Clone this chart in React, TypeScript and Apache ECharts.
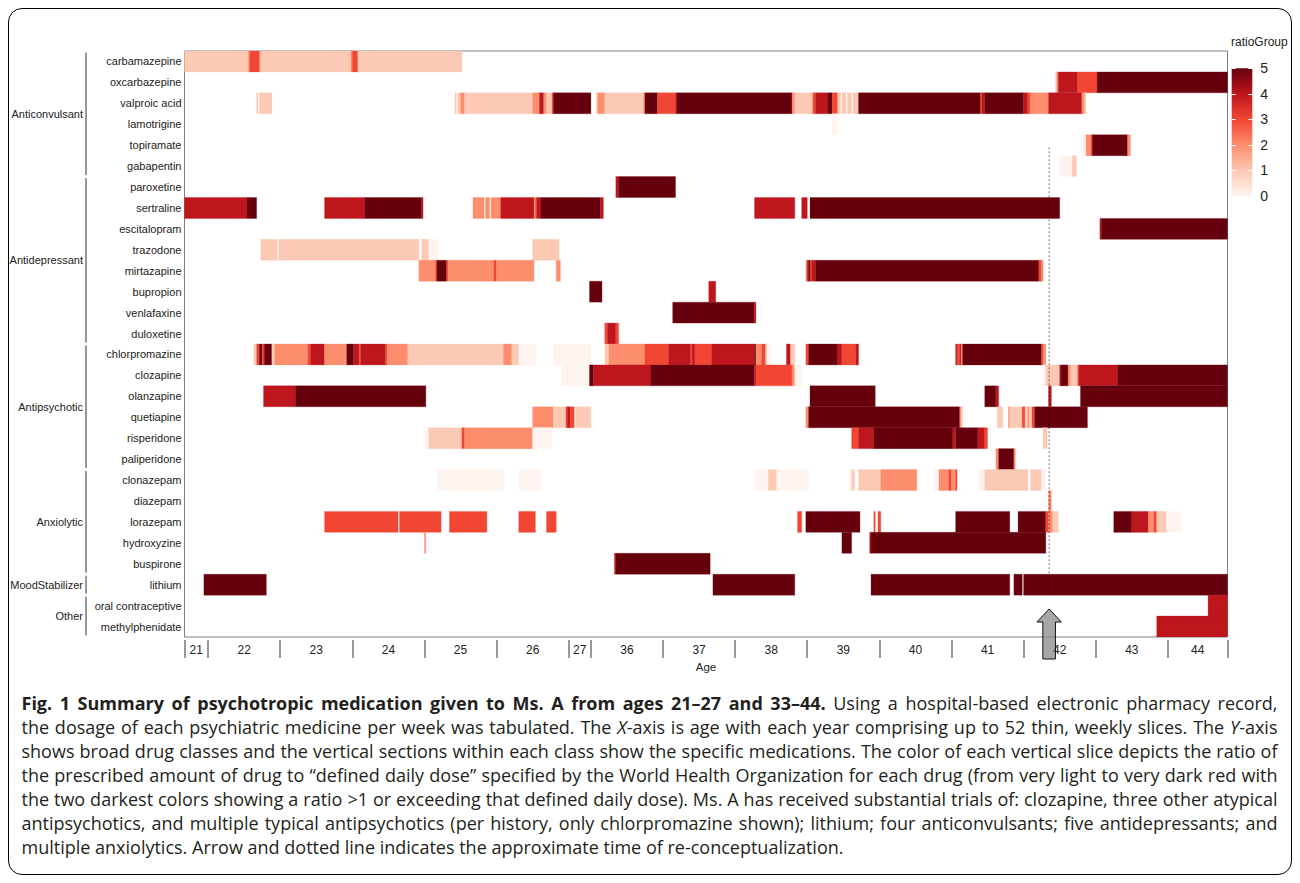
import React, { useEffect, useRef } from "react";
import * as echarts from "echarts";

// ---------- categories ----------
const medications = [
  "carbamazepine", "oxcarbazepine", "valproic acid", "lamotrigine", "topiramate", "gabapentin",
  "paroxetine", "sertraline", "escitalopram", "trazodone", "mirtazapine", "bupropion", "venlafaxine", "duloxetine",
  "chlorpromazine", "clozapine", "olanzapine", "quetiapine", "risperidone", "paliperidone",
  "clonazepam", "diazepam", "lorazepam", "hydroxyzine", "buspirone",
  "lithium",
  "oral contraceptive", "methylphenidate",
];
const drugClasses = ["Anticonvulsant", "Antidepressant", "Antipsychotic", "Anxiolytic", "MoodStabilizer", "Other"];
const classRows = [[0, 5], [6, 13], [14, 19], [20, 24], [25, 25], [26, 27]];

// x axis: weeks, year boundaries and age labels
const ageLabels = ["21", "22", "23", "24", "25", "26", "27", "36", "37", "38", "39", "40", "41", "42", "43", "44"];
const yearBoundaries = [0, 17, 69, 121, 173, 225, 277, 293, 345, 397, 449, 501, 553, 605, 657, 709, 752];

// ---------- series values: [startWeek, endWeek, ratioGroup] ----------
const carbamazepine = [[0, 46, 1], [46, 47, 2], [47, 54, 3], [54, 55, 2], [55, 120, 1], [120, 121, 2], [121, 125, 3], [125, 200, 1]];
const oxcarbazepine = [[628, 629, 1], [629, 630, 2], [630, 644, 4], [644, 658, 3], [658, 752, 5]];
const valproicAcid = [[52, 53, 1], [54, 63, 1], [195, 196, 1], [197, 199, 1], [199, 202, 2], [202, 251, 1], [251, 256, 2], [256, 259, 4], [259, 261, 2], [261, 265, 1], [265, 266, 3], [266, 293, 5], [297, 298, 1], [298, 303, 2], [303, 331, 1], [331, 332, 2], [332, 341, 5], [341, 354, 3], [354, 355, 4], [355, 438, 5], [438, 440, 2], [440, 453, 1], [453, 455, 3], [455, 464, 4], [464, 467, 5], [467, 471, 3], [471, 473, 1], [474, 477, 1], [478, 481, 1], [482, 486, 1], [486, 574, 5], [574, 575, 3], [575, 577, 4], [577, 605, 5], [605, 608, 4], [608, 610, 3], [610, 623, 2], [623, 647, 4], [647, 649, 2], [649, 650, 1]];
const lamotrigine = [[467, 471, 0]];
const topiramate = [[647, 650, 0], [650, 654, 2], [654, 655, 4], [655, 680, 5], [680, 682, 2]];
const gabapentin = [[631, 640, 0], [640, 643, 1]];
const paroxetine = [[311, 313, 4], [313, 354, 5]];
const sertraline = [[0, 45, 4], [45, 52, 5], [101, 130, 4], [130, 171, 5], [171, 172, 4], [208, 216, 2], [217, 220, 2], [221, 228, 2], [228, 252, 4], [252, 253, 2], [253, 254, 3], [254, 257, 4], [257, 300, 5], [300, 302, 4], [411, 440, 4], [445, 449, 4], [451, 631, 5]];
const escitalopram = [[660, 661, 4], [661, 752, 5]];
const trazodone = [[55, 67, 1], [68, 169, 1], [171, 176, 1], [177, 183, 0], [251, 270, 1]];
const mirtazapine = [[169, 181, 2], [181, 182, 3], [182, 189, 5], [189, 190, 3], [190, 223, 2], [223, 225, 3], [225, 252, 2], [268, 271, 2], [448, 449, 2], [449, 450, 4], [450, 451, 5], [451, 452, 3], [452, 455, 4], [455, 616, 5], [616, 618, 3], [618, 619, 2]];
const bupropion = [[292, 301, 5], [378, 383, 4]];
const venlafaxine = [[352, 411, 5], [411, 412, 4]];
const duloxetine = [[303, 305, 3], [305, 311, 4], [311, 313, 3]];
const chlorpromazine = [[50, 52, 1], [52, 54, 3], [54, 56, 5], [56, 57, 3], [57, 58, 4], [58, 63, 5], [63, 65, 1], [65, 89, 2], [89, 91, 3], [91, 101, 4], [101, 117, 2], [117, 122, 5], [122, 126, 4], [126, 127, 3], [127, 145, 4], [145, 146, 3], [146, 161, 2], [161, 230, 1], [230, 236, 2], [236, 241, 1], [241, 253, 0], [266, 293, 0], [303, 306, 1], [306, 332, 2], [332, 349, 3], [349, 365, 4], [365, 366, 3], [366, 368, 4], [368, 380, 3], [380, 411, 4], [411, 412, 5], [412, 416, 2], [416, 419, 3], [419, 420, 1], [420, 423, 0], [434, 437, 4], [437, 440, 1], [448, 450, 3], [450, 471, 5], [471, 474, 4], [474, 484, 3], [484, 486, 4], [556, 557, 4], [557, 559, 3], [559, 560, 4], [560, 561, 2], [561, 618, 5], [618, 619, 3], [619, 621, 2]];
const clozapine = [[272, 292, 0], [292, 295, 5], [295, 336, 4], [336, 411, 5], [411, 412, 4], [412, 438, 3], [438, 440, 2], [440, 445, 0], [619, 621, 0], [621, 631, 1], [631, 632, 4], [632, 637, 5], [637, 639, 2], [639, 644, 1], [644, 645, 3], [645, 673, 4], [673, 752, 5]];
const olanzapine = [[57, 80, 4], [80, 174, 5], [451, 498, 5], [577, 585, 5], [585, 587, 4], [623, 625, 4], [646, 752, 5]];
const quetiapine = [[251, 266, 2], [266, 275, 1], [275, 276, 3], [276, 278, 4], [278, 281, 3], [282, 293, 1], [448, 450, 2], [450, 559, 5], [559, 560, 2], [560, 561, 1], [586, 590, 1], [594, 595, 2], [595, 604, 1], [604, 606, 3], [606, 608, 1], [608, 609, 2], [609, 611, 1], [611, 613, 3], [613, 651, 5]];
const risperidone = [[173, 176, 0], [176, 200, 1], [200, 202, 3], [202, 251, 2], [251, 265, 0], [481, 486, 3], [486, 497, 4], [497, 554, 5], [554, 556, 4], [556, 572, 5], [572, 577, 4], [577, 579, 3], [619, 622, 1]];
const paliperidone = [[585, 587, 2], [587, 598, 5], [598, 599, 2]];
const clonazepam = [[182, 230, 0], [241, 257, 0], [411, 421, 0], [421, 427, 1], [427, 450, 0], [479, 481, 0], [481, 483, 1], [486, 502, 1], [502, 528, 2], [540, 544, 0], [544, 551, 2], [551, 553, 3], [553, 556, 2], [556, 557, 3], [572, 577, 0], [577, 608, 1], [610, 618, 1], [618, 621, 0]];
const diazepam = [[623, 625, 2]];
const lorazepam = [[101, 154, 3], [155, 185, 3], [191, 218, 3], [241, 253, 3], [261, 268, 3], [442, 445, 3], [448, 487, 5], [497, 498, 3], [500, 502, 3], [556, 595, 5], [601, 621, 5], [621, 623, 3], [623, 626, 2], [626, 630, 1], [670, 683, 5], [683, 695, 4], [695, 699, 2], [699, 701, 3], [701, 708, 1], [708, 719, 0]];
const hydroxyzine = [[173, 174, 2], [474, 481, 5], [494, 495, 4], [495, 621, 5]];
const buspirone = [[310, 311, 4], [311, 379, 5]];
const lithium = [[14, 59, 5], [381, 440, 5], [495, 595, 5], [598, 604, 5], [605, 752, 5]];
const oralContraceptive = [[738, 752, 4]];
const methylphenidate = [[701, 752, 4]];

const segmentsByDrug = [
  carbamazepine, oxcarbazepine, valproicAcid, lamotrigine, topiramate, gabapentin,
  paroxetine, sertraline, escitalopram, trazodone, mirtazapine, bupropion, venlafaxine, duloxetine,
  chlorpromazine, clozapine, olanzapine, quetiapine, risperidone, paliperidone,
  clonazepam, diazepam, lorazepam, hydroxyzine, buspirone,
  lithium,
  oralContraceptive, methylphenidate,
];

// re-conceptualization time (week) and dotted line extent (rows)
const reconceptWeek = 623.4;
const dottedFromRow = 4.1;
const dottedToRow = 25.45;

const ratioColors = ["#fef4ef", "#fcc9b4", "#fc8d6d", "#f14633", "#bd161d", "#67000d"];
const FONT = "'Liberation Sans', Arial, Helvetica, sans-serif";
const TEXT = "#222222";

function buildOption() {
  const cells: number[][] = [];
  segmentsByDrug.forEach((segs, row) => {
    segs.forEach(([s, e, v]) => cells.push([s, e, row, v]));
  });
  const midpoints = yearBoundaries.slice(0, -1).map((b, i) => (b + yearBoundaries[i + 1]) / 2);
  const classCenters = classRows.map(([a, b]) => (a + b) / 2);
  const nearestIdx = (arr: number[], v: number) => {
    let best = 0;
    arr.forEach((x, i) => { if (Math.abs(x - v) < Math.abs(arr[best] - v)) best = i; });
    return best;
  };

  return {
    animation: false,
    backgroundColor: "transparent",
    textStyle: { fontFamily: FONT },
    title: {
      text: "ratioGroup", left: 1231, top: 36, padding: 0,
      textStyle: { fontSize: 12, fontWeight: "normal", color: TEXT, fontFamily: FONT },
    },
    grid: [
      {
        left: 184.5, top: 51, width: 1043, height: 586, show: true, borderColor: "#7f7f7f", borderWidth: 1,
        backgroundColor: "transparent", containLabel: false, outerBoundsMode: "none",
      },
      { left: 1231.7, top: 68.3, width: 20.6, height: 127.7, show: false, containLabel: false, outerBoundsMode: "none" },
    ],
    xAxis: [
      {
        type: "value", gridIndex: 0, min: 0, max: 752, offset: 3,
        axisLine: { show: false, onZero: false },
        splitLine: { show: false },
        axisTick: { show: true, length: 18, customValues: yearBoundaries, lineStyle: { color: "#7f7f7f", width: 1.6 } },
        axisLabel: {
          customValues: midpoints, margin: 4, fontSize: 12, color: TEXT, fontFamily: FONT,
          formatter: (v: number) => ageLabels[nearestIdx(midpoints, v)],
        },
        name: "Age", nameLocation: "middle", nameGap: 21,
        nameTextStyle: { fontSize: 11.5, color: TEXT, fontFamily: FONT },
      },
      { type: "value", gridIndex: 1, min: 0, max: 1, show: false },
    ],
    yAxis: [
      {
        type: "value", gridIndex: 0, min: -0.5, max: 27.5, inverse: true,
        axisLine: { show: false, onZero: false }, axisTick: { show: false }, splitLine: { show: false },
        axisLabel: {
          customValues: medications.map((_, i) => i), margin: 3, fontSize: 11, color: TEXT, fontFamily: FONT,
          formatter: (v: number) => medications[Math.round(v)],
        },
      },
      {
        type: "value", gridIndex: 0, min: -0.5, max: 27.5, inverse: true, position: "left", offset: 98.5,
        axisLine: { show: false, onZero: false }, axisTick: { show: false }, splitLine: { show: false },
        axisLabel: {
          customValues: classCenters, margin: 3, fontSize: 11, color: TEXT, fontFamily: FONT,
          formatter: (v: number) => drugClasses[nearestIdx(classCenters, v)],
        },
      },
      {
        type: "value", gridIndex: 1, min: 0, max: 5, interval: 1, position: "right", z: 10,
        axisLine: { show: false, onZero: false }, splitLine: { show: false },
        axisTick: { show: true, inside: true, length: 4, lineStyle: { color: "#ffffff", width: 1 } },
        axisLabel: { margin: 8, fontSize: 14, color: TEXT, fontFamily: FONT },
      },
      {
        type: "value", gridIndex: 1, min: 0, max: 5, interval: 1, position: "left", z: 10,
        axisLine: { show: false, onZero: false }, splitLine: { show: false },
        axisTick: { show: true, inside: true, length: 4, lineStyle: { color: "#ffffff", width: 1 } },
        axisLabel: { show: false },
      },
    ],
    visualMap: {
      type: "continuous", show: false, min: 0, max: 5, dimension: 3, seriesIndex: 0,
      inRange: { color: ratioColors },
    },
    series: [
      {
        type: "custom", name: "dose", xAxisIndex: 0, yAxisIndex: 0, clip: true,
        encode: { x: [0, 1], y: 2 },
        data: cells,
        renderItem: (params: any, api: any) => {
          const row = api.value(2);
          const a = api.coord([api.value(0), row]);
          const b = api.coord([api.value(1), row]);
          const h = api.size([0, 1])[1];
          const color = api.visual("color");
          return {
            type: "rect",
            shape: { x: a[0], y: a[1] - h / 2, width: b[0] - a[0], height: h },
            style: { fill: color, stroke: color, lineWidth: 0.3 },
          };
        },
      },
      {
        type: "custom", name: "classBrackets", xAxisIndex: 0, yAxisIndex: 0, clip: false, silent: true,
        encode: { x: 0, y: [1, 2] },
        data: classRows.map(([a, b]) => [0, a, b]),
        renderItem: (params: any, api: any) => {
          const top = api.coord([0, api.value(1) - 0.5]);
          const bot = api.coord([0, api.value(2) + 0.5]);
          const x = top[0] - 98.5;
          return {
            type: "line",
            shape: { x1: x, y1: top[1] + 1.5, x2: x, y2: bot[1] - 1.5 },
            style: { stroke: "#333333", lineWidth: 1 },
          };
        },
      },
      {
        type: "custom", name: "reconceptualization", xAxisIndex: 0, yAxisIndex: 0, clip: false, silent: true, z: 10,
        encode: { x: 0, y: [1, 2] },
        data: [[reconceptWeek, dottedFromRow, dottedToRow]],
        renderItem: (params: any, api: any) => {
          const p1 = api.coord([api.value(0), api.value(1)]);
          const p2 = api.coord([api.value(0), api.value(2)]);
          const base = api.coord([api.value(0), 27.5]);
          const x = base[0];
          const yb = base[1];
          return {
            type: "group",
            children: [
              {
                type: "line",
                shape: { x1: x, y1: p1[1], x2: x, y2: p2[1] },
                style: { stroke: "rgba(0,0,0,0.45)", lineWidth: 1.2, lineDash: [2, 2] },
              },
              {
                type: "polygon",
                shape: {
                  points: [
                    [x, yb - 28], [x + 12.2, yb - 15], [x + 6.3, yb - 15], [x + 6.3, yb + 22],
                    [x - 6.3, yb + 22], [x - 6.3, yb - 15], [x - 12.2, yb - 15],
                  ],
                },
                style: { fill: "rgba(130,130,130,0.7)", stroke: "#111111", lineWidth: 1 },
              },
            ],
          };
        },
      },
      {
        type: "custom", name: "legendBar", xAxisIndex: 1, yAxisIndex: 2, clip: false, silent: true, z: 1,
        encode: { x: 0, y: 1 },
        data: [[0, 0]],
        renderItem: (params: any, api: any) => {
          const tl = api.coord([0, 5]);
          const br = api.coord([1, 0]);
          const stops = ratioColors.slice().reverse().map((c, i) => ({ offset: i / 5, color: c }));
          return {
            type: "rect",
            shape: { x: tl[0], y: tl[1], width: br[0] - tl[0], height: br[1] - tl[1] },
            style: { fill: new echarts.graphic.LinearGradient(0, 0, 0, 1, stops) },
          };
        },
      },
    ],
  };
}

function Chart() {
  const ref = useRef<HTMLDivElement>(null);
  useEffect(() => {
    if (!ref.current) return;
    const chart = echarts.init(ref.current, null, { renderer: "svg" });
    chart.setOption(buildOption() as any);
    return () => chart.dispose();
  }, []);
  return <div ref={ref} style={{ position: "absolute", left: -9.5, top: -9.5, width: 1300, height: 690 }} />;
}

const lineStyle: React.CSSProperties = { textAlign: "justify", textAlignLast: "justify" as any, height: 24 };

export default function App() {
  return (
    <div
      style={{
        position: "relative", width: 1284, height: 867, boxSizing: "border-box",
        border: "1.5px solid #000", borderRadius: 14, overflow: "hidden", background: "#fff",
      }}
    >
      <Chart />
      <div
        style={{
          position: "absolute", left: 12.5, top: 681.5, width: 1256,
          fontFamily: "'Open Sans', 'Noto Sans', sans-serif", fontSize: 18, lineHeight: "24px", color: "#231f20",
        }}
      >
        <div style={lineStyle}><b>Fig. 1 Summary of psychotropic medication given to Ms. A from ages 21–27 and 33–44.</b> Using a hospital-based electronic pharmacy record,</div>
        <div style={lineStyle}>the dosage of each psychiatric medicine per week was tabulated. The <i>X</i>-axis is age with each year comprising up to 52 thin, weekly slices. The <i>Y</i>-axis</div>
        <div style={lineStyle}>shows broad drug classes and the vertical sections within each class show the specific medications. The color of each vertical slice depicts the ratio of</div>
        <div style={lineStyle}>the prescribed amount of drug to “defined daily dose” specified by the World Health Organization for each drug (from very light to very dark red with</div>
        <div style={lineStyle}>the two darkest colors showing a ratio &gt;1 or exceeding that defined daily dose). Ms. A has received substantial trials of: clozapine, three other atypical</div>
        <div style={lineStyle}>antipsychotics, and multiple typical antipsychotics (per history, only chlorpromazine shown); lithium; four anticonvulsants; five antidepressants; and</div>
        <div style={{ height: 24 }}>multiple anxiolytics. Arrow and dotted line indicates the approximate time of re-conceptualization.</div>
      </div>
    </div>
  );
}
